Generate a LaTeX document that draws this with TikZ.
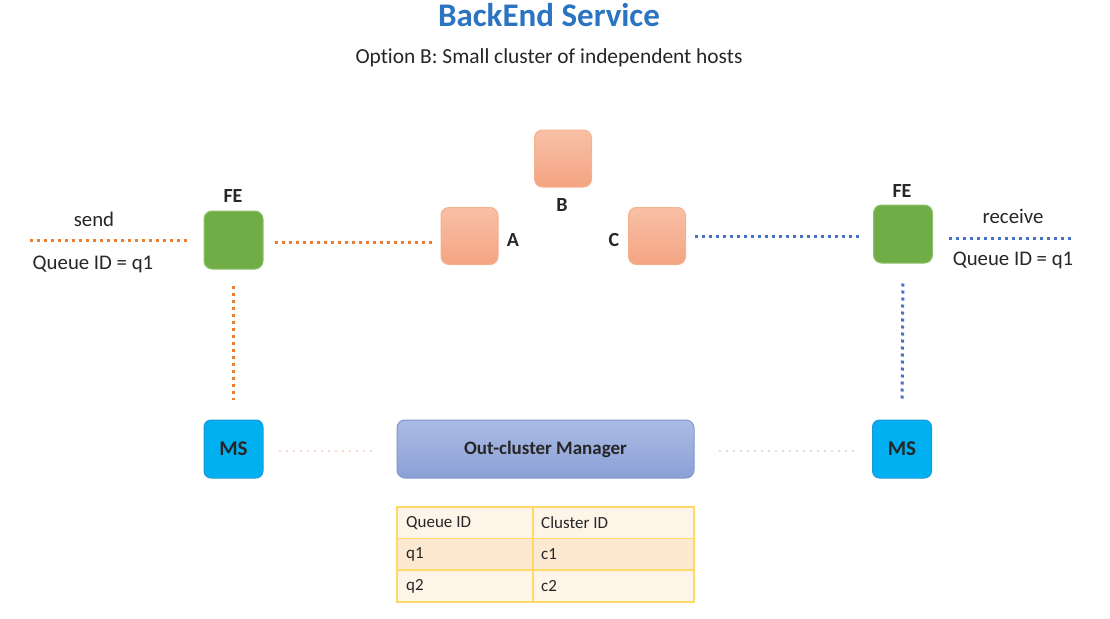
\documentclass[tikz,border=0pt]{standalone}
\usepackage{fontspec}
\setmainfont{Carlito}[Ligatures=NoCommon]
\usetikzlibrary{positioning,calc}
\definecolor{titleblue}{HTML}{2A74C2}
\definecolor{dotorange}{HTML}{ED7D31}
\definecolor{dotblue}{HTML}{4472C4}
\definecolor{fegreen}{HTML}{70AD47}
\definecolor{feborder}{HTML}{8FC36A}
\definecolor{hosttop}{HTML}{F8C0A6}
\definecolor{hostbot}{HTML}{F4A482}
\definecolor{hostborder}{HTML}{F5B090}
\definecolor{msblue}{HTML}{00B0F0}
\definecolor{msborder}{HTML}{1C9AD6}
\definecolor{mgrtop}{HTML}{ABBBE4}
\definecolor{mgrbot}{HTML}{8BA0D6}
\definecolor{mgrborder}{HTML}{8196CC}
\definecolor{tabborder}{HTML}{FFD966}
\definecolor{tablight}{HTML}{FEF4E7}
\definecolor{tabdark}{HTML}{FDE8D2}
\definecolor{faintorange}{HTML}{F8DCCB}
\definecolor{faintgray}{HTML}{D9DDE2}
\definecolor{txt}{HTML}{262626}
\newcommand{\fsz}[1]{\fontsize{#1}{#1}\selectfont}
\tikzset{
  febox/.style={draw=feborder, line width=1pt, fill=fegreen, rounded corners=8pt, minimum width=59pt, minimum height=58pt},
  hostbox/.style={draw=hostborder, line width=1pt, top color=hosttop, bottom color=hostbot, rounded corners=8pt, minimum width=57pt, minimum height=57pt},
  msbox/.style={draw=msborder, line width=1pt, fill=msblue, rounded corners=7pt, minimum width=59pt, minimum height=58pt, text=txt, font=\bfseries\fsz{21}},
  mgrbox/.style={draw=mgrborder, line width=1pt, top color=mgrtop, bottom color=mgrbot, rounded corners=8pt, minimum width=297pt, minimum height=58pt, text=txt, font=\bfseries\fsz{19}},
  lbl/.style={text=txt, font=\bfseries\fsz{20}, inner sep=0pt},
  plain/.style={text=txt, font=\fsz{20.8}, inner sep=0pt},
  cell/.style={text=txt, font=\fsz{17}, inner sep=0pt, anchor=west},
  odot/.style={draw=dotorange, line width=3pt, dash pattern=on 3pt off 4pt},
  bdot/.style={draw=dotblue, line width=3pt, dash pattern=on 3pt off 4pt},
  fodot/.style={draw=faintorange, line width=2.5pt, dash pattern=on 2.5pt off 4.5pt},
  fgdot/.style={draw=faintgray, line width=2.5pt, dash pattern=on 2.5pt off 4.5pt},
}
\begin{document}
\begin{tikzpicture}[x=1pt,y=-1pt]
\useasboundingbox[fill=white] (0,0) rectangle (1110,618);
% titles
\node[text=titleblue, font=\bfseries\fsz{33}, inner sep=0pt] (title) at (549,15) {BackEnd Service};
\node[text=txt, font=\fsz{21.4}, inner sep=0pt] (subtitle) at (549,58) {Option B: Small cluster of independent hosts};
% boxes
\node[febox] (FEL) at (233.5,240) {};
\node[febox] (FER) at (903,234) {};
\node[hostbox] (A) at (469.5,236) {};
\node[hostbox] (B) at (563,158.5) {};
\node[hostbox] (C) at (657,236) {};
\node[msbox] (MSL) at (233.5,449) {MS};
\node[msbox] (MSR) at (902,449) {MS};
\node[mgrbox] (MGR) at (545.5,449) {Out-cluster Manager};
% labels
\node[lbl] (feLlbl) at (233,196) {FE};
\node[lbl] (feRlbl) at (902,191) {FE};
\node[lbl] (Albl) at (513,240) {A};
\node[lbl] (Blbl) at (562,205) {B};
\node[lbl] (Clbl) at (614,240) {C};
\node[plain] (send) at (94,219) {send};
\node[plain] (qidL) at (93,264) {Queue ID = q1};
\node[plain] (recv) at (1013,216) {receive};
\node[plain] (qidR) at (1013,260) {Queue ID = q1};
% connectors
\coordinate (sendend) at (30,240);
\coordinate (recvend) at (1071,238);
\draw[odot, shorten >=14pt] (sendend) -- (sendend -| FEL.west);
\draw[odot, shorten <=11pt, shorten >=8pt] ([yshift=-2pt]FEL.east) -- ([yshift=-2pt]FEL.east -| A.west);
\draw[odot, shorten <=16pt, shorten >=20pt] (FEL.south) -- (MSL.north);
\draw[bdot, shorten <=9pt, shorten >=12pt] (C.east) -- (C.east -| FER.west);
\draw[bdot, shorten >=14pt] (recvend) -- (recvend -| FER.east);
\draw[bdot, shorten <=20pt, shorten >=20pt] (FER.south) -- (MSR.north);
\draw[fodot, shorten <=15pt, shorten >=25pt] ([yshift=-2pt]MSL.east) -- ([yshift=-2pt]MSL.east -| MGR.west);
\draw[fgdot, shorten <=24pt, shorten >=15pt] ([yshift=-2pt]MGR.east) -- ([yshift=-2pt]MGR.east -| MSR.west);
% table
\fill[tablight] (397,507) rectangle (694,538.5);
\fill[tabdark] (397,538.5) rectangle (694,570);
\fill[tablight] (397,570) rectangle (694,602);
\draw[tabborder, line width=1.5pt] (397,507) rectangle (694,602);
\draw[tabborder, line width=1.5pt] (397,538.5) -- (694,538.5);
\draw[tabborder, line width=1.5pt] (397,570) -- (694,570);
\draw[tabborder, line width=1.5pt] (533,507) -- (533,602);
\node[cell] (h1) at (406,523) {Queue ID};
\node[cell] (h2) at (541,523) {Cluster ID};
\node[cell] (r11) at (406,554.5) {q1};
\node[cell] (r12) at (541,554.5) {c1};
\node[cell] (r21) at (406,586) {q2};
\node[cell] (r22) at (541,586) {c2};
\end{tikzpicture}
\end{document}
